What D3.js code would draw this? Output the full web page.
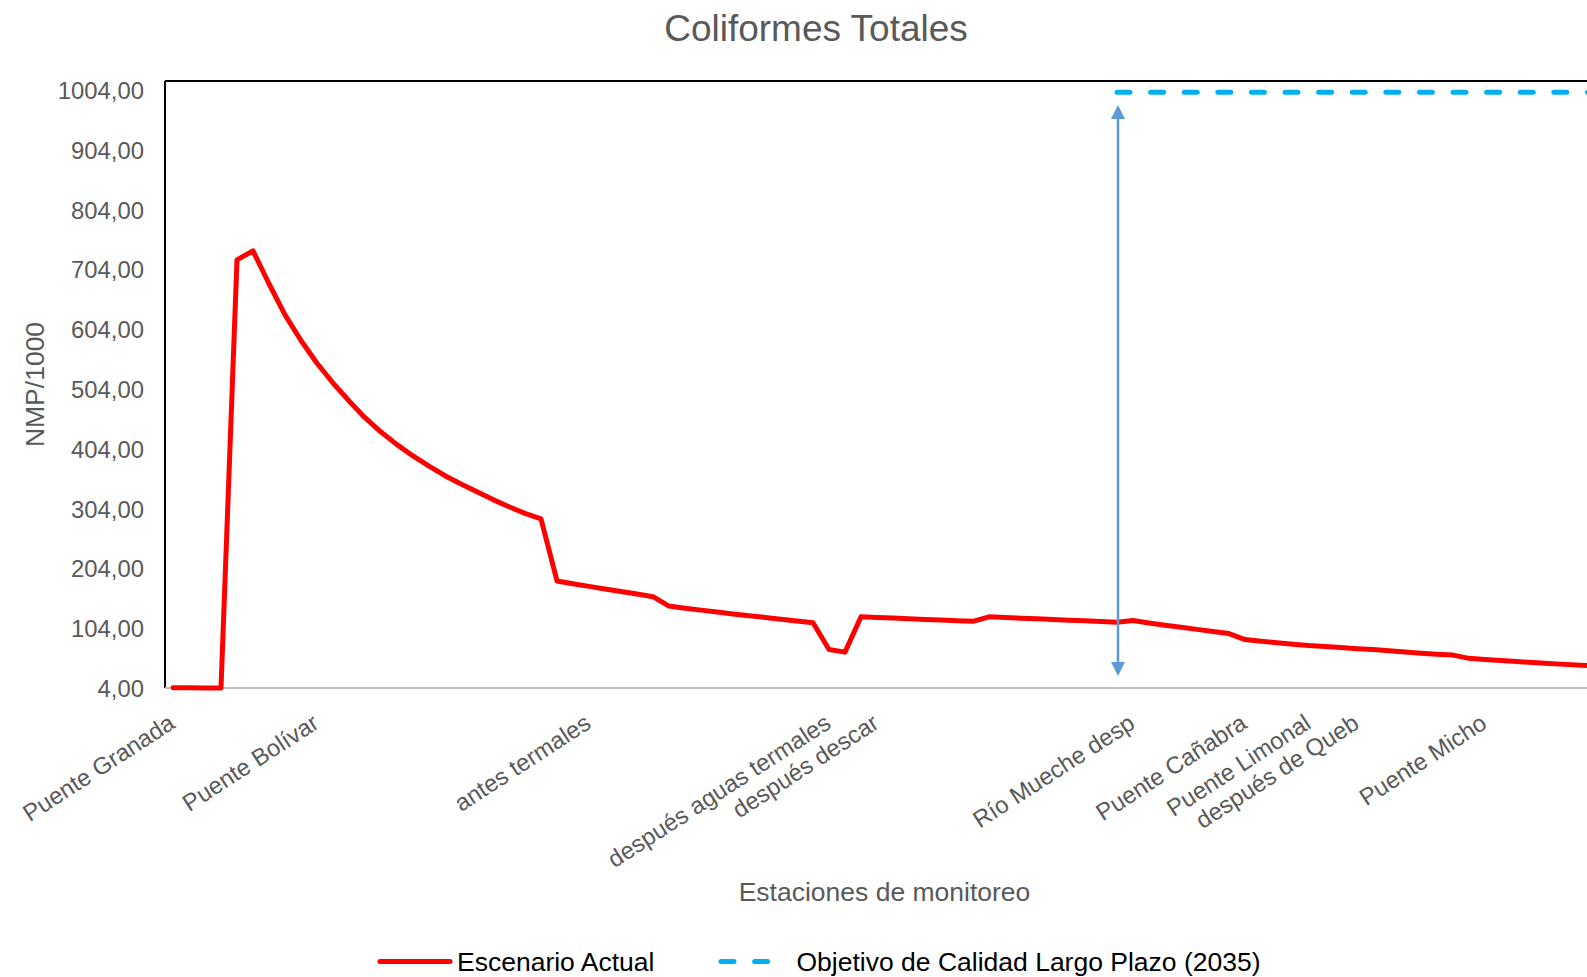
<!DOCTYPE html>
<html><head><meta charset="utf-8">
<script src="https://cdn.jsdelivr.net/npm/d3@7"></script>
<style>
body{margin:0;background:#fff;overflow:hidden}
svg{display:block}
text{font-family:"Liberation Sans",Arial,sans-serif}
</style>
</head><body>
<svg id="chart" width="1587" height="977"></svg>
<script>
// ---- data ----
const stationNames = ["Puente Granada","Puente Bolívar","antes termales","después aguas termales","después descar","Río Mueche desp","Puente Cañabra","Puente Limonal","después de Queb","Puente Micho"];
const stationIndex = [0,9,26,41,44,60,67,71,74,82];
const escenarioActual = [
  4.5,4.3,4.2,4.0,720,735,680,628,585,547,
  514,484,456,432,411,392,375,359,345,332,
  319,307,296,287,183,178.3,173.9,169.6,165.4,161.1,
  156.7,141,137.5,134.2,131,127.9,124.9,122,119.1,116,
  113,68.5,64,123,121.9,120.9,119.8,118.7,117.6,116.6,
  115.5,123,121.9,120.8,119.6,118.5,117.4,116.3,115.1,114,
  117,112.8,109,105.5,102,98.5,95,85,82.3,79.7,
  77.2,75,73.5,71.6,69.8,68.2,66.3,64.3,62.3,60.5,
  59,53.6,51.8,50,48.2,46.5,45,43.5,42,40.7,
  39.4
];
const objetivoValor = 1000;
const objetivoDesde = 59;
const yTicks = [4,104,204,304,404,504,604,704,804,904,1004];
const seriesNames = ["Escenario Actual","Objetivo de Calidad Largo Plazo (2035)"];
const arrowFrom = 979, arrowTo = 24; // annotation arrow (NMP/1000)

// ---- layout ----
const W = 1587, H = 977;
const plot = {left:165, top:81, bottom:688, right:1621};
const textGray = "#595959";
const svg = d3.select("#chart");

const x = d3.scaleBand().domain(d3.range(escenarioActual.length)).range([plot.left, plot.right]).paddingInner(0).paddingOuter(0);
const xc = i => x(i) + x.bandwidth()/2;
const y = d3.scaleLinear().domain([4, 1019]).range([plot.bottom, plot.top]);

// title
svg.append("text").attr("x", 816).attr("y", 40.5).attr("text-anchor","middle")
  .attr("font-size", 37).attr("fill", textGray).text("Coliformes Totales");

// plot frame: left + top black, bottom gray axis
svg.append("line").attr("x1", plot.left).attr("x2", plot.left).attr("y1", plot.top).attr("y2", plot.bottom)
  .attr("stroke","#000").attr("stroke-width",2);
svg.append("line").attr("x1", plot.left).attr("x2", plot.right).attr("y1", plot.top).attr("y2", plot.top)
  .attr("stroke","#000").attr("stroke-width",2);

// y axis labels
const yAxis = d3.axisLeft(y).tickValues(yTicks).tickSize(0).tickPadding(21)
  .tickFormat(d => d3.format(".2f")(d).replace(".", ","));
const gy = svg.append("g").attr("transform", `translate(${plot.left},0)`).call(yAxis);
gy.select(".domain").remove();
gy.selectAll("text").attr("font-size", 23.85).attr("fill", textGray)
  .attr("font-family", '"Liberation Sans",Arial,sans-serif').attr("dy","0.36em");

// x axis line
svg.append("line").attr("x1", plot.left).attr("x2", plot.right).attr("y1", y(4)).attr("y2", y(4))
  .attr("stroke","#BFBFBF").attr("stroke-width",2);

// x labels
svg.append("g").selectAll("text").data(stationNames).join("text")
  .attr("transform", (d,i) => `translate(${xc(stationIndex[i]) + 3.5},727) rotate(-33)`)
  .attr("text-anchor","end").attr("font-size", 23.85).attr("fill", textGray).text(d => d);

// axis titles
svg.append("text").attr("transform", `translate(44,${(plot.top+plot.bottom)/2}) rotate(-90)`)
  .attr("text-anchor","middle").attr("font-size", 26.5).attr("fill", textGray).text("NMP/1000");
svg.append("text").attr("x", 884.5).attr("y", 901).attr("text-anchor","middle")
  .attr("font-size", 26.5).attr("fill", textGray).text("Estaciones de monitoreo");

// objective line
const objIdx = d3.range(objetivoDesde, escenarioActual.length);
svg.append("path").datum(objIdx)
  .attr("d", d3.line().x(i => xc(i)).y(() => y(objetivoValor)))
  .attr("fill","none").attr("stroke","#00B0F0").attr("stroke-width",5)
  .attr("stroke-linecap","round").attr("stroke-dasharray","13 20.6");

// actual line
svg.append("path").datum(escenarioActual)
  .attr("d", d3.line().x((d,i) => xc(i)).y(d => y(d)))
  .attr("fill","none").attr("stroke","#FF0000").attr("stroke-width",5)
  .attr("stroke-linejoin","round").attr("stroke-linecap","round");

// double arrow annotation
const ax = xc(objetivoDesde) + 1;
const aTop = y(arrowFrom), aBot = y(arrowTo);
const arrowColor = "#5B9BD5";
svg.append("line").attr("x1", ax).attr("x2", ax).attr("y1", aTop + 10).attr("y2", aBot - 10)
  .attr("stroke", arrowColor).attr("stroke-width", 2.5);
svg.append("path").attr("d", `M${ax},${aTop} L${ax-7},${aTop+14} L${ax+7},${aTop+14} Z`).attr("fill", arrowColor);
svg.append("path").attr("d", `M${ax},${aBot} L${ax-7},${aBot-14} L${ax+7},${aBot-14} Z`).attr("fill", arrowColor);

// legend
const lg = svg.append("g");
lg.append("line").attr("x1",380).attr("x2",450).attr("y1",961.5).attr("y2",961.5)
  .attr("stroke","#FF0000").attr("stroke-width",5).attr("stroke-linecap","round");
lg.append("text").attr("x",457).attr("y",971).attr("font-size",26.5).attr("fill","#000").text(seriesNames[0]);
lg.append("line").attr("x1",721).attr("x2",769).attr("y1",961.5).attr("y2",961.5)
  .attr("stroke","#00B0F0").attr("stroke-width",5).attr("stroke-linecap","round").attr("stroke-dasharray","13 20.6");
lg.append("text").attr("x",796.5).attr("y",971).attr("font-size",26.5).attr("fill","#000").text(seriesNames[1]);
</script>
</body></html>
